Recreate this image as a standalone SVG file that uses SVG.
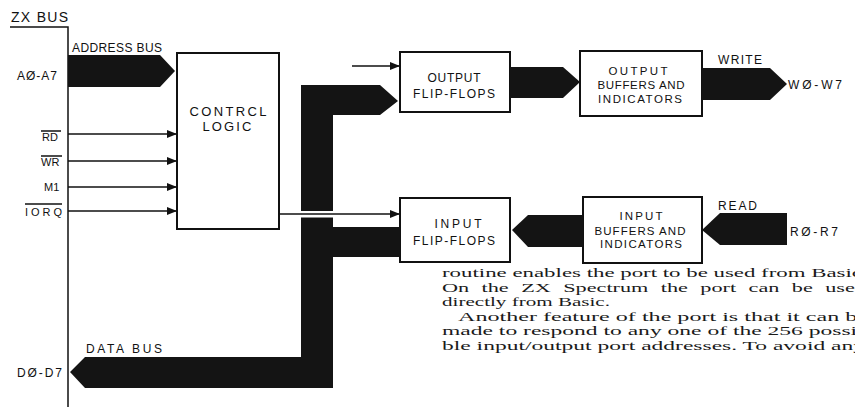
<svg xmlns="http://www.w3.org/2000/svg" width="855" height="407" viewBox="0 0 855 407">
<defs>
<style>
.box{fill:#fff;stroke:#111;stroke-width:2}
.bus{fill:#141414}
.sig{stroke:#111;stroke-width:1.5;fill:none}
.lbl{font-family:"Liberation Sans",Arial,sans-serif;fill:#111}
.para{font-family:"Liberation Serif","Times New Roman",serif;font-size:13px;fill:#1a1a1a}
</style>
<marker id="arr" markerUnits="userSpaceOnUse" markerWidth="10" markerHeight="8" refX="10" refY="4" orient="auto">
<path d="M0,0 L10,4 L0,8 z" fill="#111"/>
</marker>
</defs>
<rect width="855" height="407" fill="#fff"/>

<g id="zx-bus">
<text class="lbl" x="11" y="22" font-size="14" textLength="57">ZX BUS</text>
<path class="sig" d="M10,27 H68 V407"/>
<text class="lbl" x="17" y="80" font-size="12" textLength="40">AØ-A7</text>
<text class="lbl" x="42" y="141" font-size="11">RD</text>
<line class="sig" x1="41" y1="131" x2="61" y2="131" stroke-width="1"/>
<text class="lbl" x="41" y="166" font-size="11">WR</text>
<line class="sig" x1="41" y1="156" x2="62" y2="156" stroke-width="1"/>
<text class="lbl" x="44" y="191" font-size="11">M1</text>
<text class="lbl" x="25" y="216" font-size="11" textLength="37">IORQ</text>
<line class="sig" x1="25" y1="204" x2="62" y2="204" stroke-width="1"/>
<text class="lbl" x="17" y="377" font-size="12" textLength="45">DØ-D7</text>
</g>

<g id="control-logic">
<rect class="box" x="177" y="53" width="102" height="176"/>
<text class="lbl" x="228" y="116" font-size="13" text-anchor="middle" textLength="77">CONTRCL</text>
<text class="lbl" x="227" y="131" font-size="13" text-anchor="middle" textLength="49">LOGIC</text>
</g>

<g id="output-flip-flops">
<rect class="box" x="400" y="52" width="110" height="60"/>
<text class="lbl" x="454" y="82" font-size="12" text-anchor="middle" textLength="53">OUTPUT</text>
<text class="lbl" x="454" y="97.5" font-size="12" text-anchor="middle" textLength="82">FLIP-FLOPS</text>
</g>

<g id="output-buffers">
<rect class="box" x="580" y="51" width="122" height="65"/>
<text class="lbl" x="638" y="75" font-size="11.5" text-anchor="middle" textLength="59">OUTPUT</text>
<text class="lbl" x="641" y="89" font-size="11.5" text-anchor="middle" textLength="87">BUFFERS AND</text>
<text class="lbl" x="640" y="102.5" font-size="11.5" text-anchor="middle" textLength="84">INDICATORS</text>
</g>

<g id="input-flip-flops">
<rect class="box" x="400" y="198" width="110" height="64"/>
<text class="lbl" x="458" y="227.5" font-size="12" text-anchor="middle" textLength="47">INPUT</text>
<text class="lbl" x="454" y="244.5" font-size="12" text-anchor="middle" textLength="82">FLIP-FLOPS</text>
</g>

<g id="input-buffers">
<rect class="box" x="583" y="197" width="119" height="66"/>
<text class="lbl" x="641" y="219.5" font-size="11.5" text-anchor="middle" textLength="43">INPUT</text>
<text class="lbl" x="640" y="234.5" font-size="11.5" text-anchor="middle" textLength="91">BUFFERS AND</text>
<text class="lbl" x="641" y="248" font-size="11.5" text-anchor="middle" textLength="82">INDICATORS</text>
</g>

<g id="connectors">
<polygon class="bus" points="68,55 160,55 175,71 160,87 68,87"/>
<text class="lbl" x="72" y="51.5" font-size="12" textLength="90">ADDRESS BUS</text>
<line class="sig" x1="68" y1="134" x2="177" y2="134" marker-end="url(#arr)"/>
<line class="sig" x1="68" y1="161" x2="177" y2="161" marker-end="url(#arr)"/>
<line class="sig" x1="68" y1="187" x2="177" y2="187" marker-end="url(#arr)"/>
<line class="sig" x1="68" y1="211" x2="177" y2="211" marker-end="url(#arr)"/>
<polygon class="bus" points="70,372 85,357 301,357 301,85 380,85 398,101 380,115 333,115 333,227 400,227 400,257 333,257 333,388 85,388"/>
<rect x="300" y="211" width="34" height="6.5" fill="#fff"/>
<line class="sig" x1="279" y1="214" x2="400" y2="214" marker-end="url(#arr)"/>
<line class="sig" x1="352" y1="66" x2="400" y2="66" marker-end="url(#arr)"/>
<text class="lbl" x="86" y="353" font-size="12" textLength="76">DATA BUS</text>
<polygon class="bus" points="510,67 563,67 580,82 563,98 510,98"/>
<polygon class="bus" points="702,68 770,68 787,84 770,100 702,100"/>
<text class="lbl" x="718" y="63.5" font-size="12" textLength="44">WRITE</text>
<text class="lbl" x="788" y="89" font-size="12" textLength="54">WØ-W7</text>
<polygon class="bus" points="512,230 528,215 583,215 583,247 528,247"/>
<polygon class="bus" points="702,230 720,213 787,213 787,245 720,245"/>
<text class="lbl" x="718" y="209.5" font-size="12" textLength="39">READ</text>
<text class="lbl" x="790" y="236" font-size="12" textLength="48">RØ-R7</text>
</g>

<g id="article-text" class="para">
<text x="442" y="277" textLength="420" lengthAdjust="spacingAndGlyphs">routine enables the port to be used from Basic</text>
<text x="442" y="291.6" textLength="424" lengthAdjust="spacingAndGlyphs" word-spacing="4">On the ZX Spectrum the port can be used</text>
<text x="442" y="306.2" textLength="168" lengthAdjust="spacingAndGlyphs">directly from Basic.</text>
<text x="458" y="320.8" textLength="410" lengthAdjust="spacingAndGlyphs">Another feature of the port is that it can be</text>
<text x="442" y="335.4" textLength="423" lengthAdjust="spacingAndGlyphs">made to respond to any one of the 256 possi-</text>
<text x="442" y="350" textLength="423" lengthAdjust="spacingAndGlyphs">ble input/output port addresses. To avoid any</text>
</g>
</svg>
